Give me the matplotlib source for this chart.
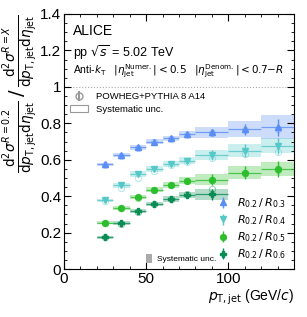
import numpy as np
import matplotlib
matplotlib.use("Agg")
from matplotlib import pyplot as plt
from matplotlib.patches import Rectangle

# bins in pT,jet (GeV/c)
edges = [20, 30, 40, 50, 60, 70, 80, 100, 120, 140]
pt = [25, 35, 45, 55, 65, 75, 90, 110, 130]

# R=0.2 / R=X ratios: data, stat, sys, POWHEG
r03 = [0.575, 0.625, 0.668, 0.700, 0.718, 0.740, 0.750, 0.768, 0.778]
r03_stat = [0.005, 0.006, 0.006, 0.007, 0.008, 0.010, 0.020, 0.030, 0.045]
r03_sys = [0.010, 0.011, 0.012, 0.013, 0.015, 0.018, 0.030, 0.045, 0.065]
r03_pw = [0.572, 0.618, 0.662, 0.695, 0.715, 0.738, 0.748, 0.765, 0.770]

r04 = [0.377, 0.459, 0.523, 0.550, 0.577, 0.595, 0.626, 0.650, 0.677]
r04_stat = [0.006, 0.008, 0.009, 0.010, 0.012, 0.015, 0.025, 0.035, 0.045]
r04_sys = [0.008, 0.013, 0.015, 0.015, 0.016, 0.018, 0.025, 0.035, 0.040]
r04_pw = [0.372, 0.446, 0.500, 0.540, 0.570, 0.590, 0.610, 0.630, 0.640]

r05 = [0.255, 0.337, 0.395, 0.435, 0.462, 0.486, 0.490, 0.530, 0.550]
r05_stat = [0.006, 0.008, 0.010, 0.011, 0.012, 0.015, 0.030, 0.035, 0.045]
r05_sys = [0.008, 0.010, 0.012, 0.013, 0.015, 0.018, 0.030, 0.035, 0.040]
r05_pw = [0.252, 0.335, 0.392, 0.432, 0.460, 0.484, 0.490, 0.525, 0.545]

r06 = [0.176, 0.253, 0.318, 0.358, 0.385, 0.407, 0.410]
r06_stat = [0.006, 0.008, 0.010, 0.012, 0.014, 0.018, 0.030]
r06_sys = [0.008, 0.010, 0.012, 0.013, 0.015, 0.018, 0.030]
r06_pw = [0.175, 0.250, 0.316, 0.356, 0.385, 0.410, 0.440]

series = [
    (r03, r03_stat, r03_sys, r03_pw, "#5b8ef5", "^", r"$R_{0.2}\,/\,R_{0.3}$"),
    (r04, r04_stat, r04_sys, r04_pw, "#55c8c8", "v", r"$R_{0.2}\,/\,R_{0.4}$"),
    (r05, r05_stat, r05_sys, r05_pw, "#2dbe2d", "o", r"$R_{0.2}\,/\,R_{0.5}$"),
    (r06, r06_stat, r06_sys, r06_pw, "#0a8c55", "P", r"$R_{0.2}\,/\,R_{0.6}$"),
]

plt.rcParams['font.family'] = ['Liberation Sans', 'DejaVu Sans']
plt.rcParams['mathtext.fontset'] = 'dejavusans'

fig = plt.figure(figsize=(3.07, 3.17), dpi=100)
ax = fig.add_axes([0.208, 0.151, 0.75, 0.805])

handles = []
for y, st, sy, pw, col, mk, lab in series:
    n = len(y)
    lo = np.array(edges[:n])
    hi = np.array(edges[1:n + 1])
    x = np.array(pt[:n])
    for i in range(n):
        ax.add_patch(Rectangle((lo[i], y[i] - sy[i]), hi[i] - lo[i], 2 * sy[i],
                               facecolor=col, edgecolor='none', alpha=0.3, zorder=1))
    ax.plot(x, pw, ls='none', marker='o', ms=4.5, mfc='none', mec=col, mew=0.7,
            alpha=0.45, zorder=2)
    ax.errorbar(x, y, xerr=[x - lo, hi - x], fmt='none', ecolor=col,
                elinewidth=0.9, alpha=0.8, zorder=3)
    h = ax.errorbar(x, y, yerr=st, fmt=mk, color=col, ms=4.2, elinewidth=1.0,
                    capsize=0, zorder=4, label=lab)
    handles.append(h)

ax.axhline(1.0, color='#aaaaaa', ls=':', lw=0.8, zorder=0)

ax.set_xlim(0, 140)
ax.set_ylim(0, 1.4)
ax.set_xticks([0, 50, 100])
ax.set_xticks(np.arange(0, 141, 10), minor=True)
ax.set_yticks([0, 0.2, 0.4, 0.6, 0.8, 1.0, 1.2, 1.4])
ax.set_yticklabels(["0", "0.2", "0.4", "0.6", "0.8", "1", "1.2", "1.4"])
ax.set_yticks(np.arange(0, 1.41, 0.05), minor=True)
ax.tick_params(which='both', direction='in', top=True, right=True, labelsize=11, pad=2)
ax.tick_params(which='major', length=5)
ax.tick_params(which='minor', length=2.5)
for s in ax.spines.values():
    s.set_linewidth(0.8)

ax.set_xlabel(r"$p_{\mathrm{T,jet}}$ (GeV/$c$)", fontsize=10, loc='right', labelpad=1)
ax.set_ylabel(r"$\frac{\mathrm{d}^2\sigma^{R=0.2}}{\mathrm{d}p_{\mathrm{T,jet}}\mathrm{d}\eta_{\mathrm{jet}}}"
              r"\,/\,\frac{\mathrm{d}^2\sigma^{R=X}}{\mathrm{d}p_{\mathrm{T,jet}}\mathrm{d}\eta_{\mathrm{jet}}}$",
              fontsize=14, loc='top', labelpad=0)

ax.text(0.04, 0.96, "ALICE", transform=ax.transAxes, fontsize=10, va='top')
ax.text(0.04, 0.885, r"pp $\sqrt{s}$ = 5.02 TeV", transform=ax.transAxes, fontsize=9, va='top')
ax.text(0.04, 0.81, r"Anti-$k_{\mathrm{T}}$   $|\eta_{\mathrm{jet}}^{\mathrm{Numer.}}| < 0.5$   "
        r"$|\eta_{\mathrm{jet}}^{\mathrm{Denom.}}| < 0.7{-}R$",
        transform=ax.transAxes, fontsize=7.5, va='top')

# model legend
pw_e = ax.errorbar([], [], yerr=[], fmt='o', mfc='none', mec='#999999', ecolor='#999999', ms=5)
sys_h = Rectangle((0, 0), 1, 1, facecolor='none', edgecolor='#999999', lw=0.8)
leg1 = ax.legend([pw_e, sys_h], ["POWHEG+PYTHIA 8 A14", "Systematic unc."],
                 loc='upper left', bbox_to_anchor=(0.0, 0.715), frameon=False,
                 fontsize=6.8, handlelength=2.0, borderaxespad=0.2, labelspacing=0.35)
ax.add_artist(leg1)

leg2 = ax.legend(handles, [h.get_label() for h in handles], loc='lower right',
                 bbox_to_anchor=(1.0, 0.0), frameon=False, fontsize=8,
                 handlelength=1.0, labelspacing=0.3, borderaxespad=0.3)
ax.add_artist(leg2)

gray = Rectangle((0, 0), 1, 1, facecolor='#aaaaaa', edgecolor='none')
ax.legend([gray], ["Systematic unc."], loc='lower left', bbox_to_anchor=(0.33, 0.0),
          frameon=False, fontsize=6, handlelength=0.8, handleheight=1.3,
          borderaxespad=0.3, handletextpad=0.5)

fig.savefig("out.png", dpi=100)
